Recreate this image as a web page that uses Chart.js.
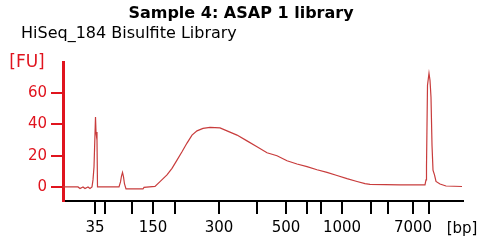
<!DOCTYPE html>
<html>
<head>
<meta charset="utf-8">
<script src="https://cdn.jsdelivr.net/npm/chart.js@4/dist/chart.umd.min.js"></script>
<style>
html,body{margin:0;padding:0;background:#fff;}
#c{display:block;}
</style>
</head>
<body>
<canvas id="c" width="480" height="244"></canvas>
<script>
// Electropherogram: migration time (s) and fluorescence (FU)
const traceTime = [40.0,43.0,43.4,44.0,44.4,45.0,45.4,45.8,46.0,46.2,46.5,46.6,46.8,46.9,
  51.2,51.5,51.7,51.9,52.1,52.3,52.6,56.0,56.2,58.4,
  59.4,60.8,61.8,62.8,63.8,64.8,65.8,66.8,68.0,69.4,71.4,72.8,74.8,76.8,78.8,80.8,82.8,84.8,86.8,88.8,90.8,92.8,94.8,96.8,98.8,100.4,101.4,
  107.4,112.4,112.6,112.7,112.9,113.2,113.4,113.6,113.8,114.0,114.3,114.6,115.4,116.6,119.8];
const traceFU = [0,0,-1.0,0,-1.0,0,-1.0,0,4.5,12.8,44.7,35.1,30.0,0,
  0,3.2,7.0,9.3,6.4,1.9,-1.3,-1.3,-0.3,0.4,
  3.4,7.7,11.9,17.2,22.5,28.1,33.2,35.9,37.5,38.1,37.8,35.9,33.2,29.5,25.7,21.9,20.0,16.8,14.7,13.0,11.0,9.3,7.3,5.3,3.5,2.1,1.6,
  1.3,1.3,4.5,13.4,65.1,72.8,68.3,57.4,26.8,10.8,7.7,3.5,1.9,0.6,0.3];
// Ladder: sizes (bp) and their migration times (s)
const ladderBp   = [35,50,100,150,200,300,400,500,600,700,1000,2000,3000,7000,10380];
const ladderTime = [46.4,48.4,53.8,58.0,62.4,71.2,78.8,84.6,88.8,91.6,95.8,101.6,105.0,110.0,113.2];
const labeledBp  = [35,150,300,500,1000,7000];
const yTicks = [0,20,40,60];

const titleText = 'Sample 4: ASAP 1 library';
const subtitleText = 'HiSeq_184 Bisulfite Library';
const yUnit = '[FU]';
const xUnit = '[bp]';

const RED = '#e0141e';
const TRACE = '#c83c3c';
Chart.defaults.font.family = 'DejaVu Sans';

const textPlugin = {
  id: 'texts',
  afterDraw(chart) {
    const ctx = chart.ctx;
    ctx.save();
    ctx.textBaseline = 'middle';
    ctx.fillStyle = '#000';
    ctx.font = 'bold 16px "DejaVu Sans"';
    ctx.textAlign = 'center';
    ctx.fillText(titleText, 241, 14);
    ctx.font = '16px "DejaVu Sans"';
    ctx.textAlign = 'left';
    ctx.fillText(subtitleText, 21, 34);
    ctx.fillStyle = RED;
    ctx.font = '17px "DejaVu Sans"';
    ctx.textAlign = 'center';
    ctx.fillText(yUnit, 27, 63);
    ctx.fillStyle = '#000';
    ctx.font = '15px "DejaVu Sans"';
    ctx.fillText(xUnit, 462, 229);
    ctx.restore();
  }
};

new Chart(document.getElementById('c'), {
  type: 'line',
  data: {
    datasets: [{
      data: traceTime.map((t, i) => ({x: t, y: traceFU[i]})),
      borderColor: TRACE,
      borderWidth: 1.2,
      pointRadius: 0,
      tension: 0,
      fill: false
    }]
  },
  options: {
    responsive: false,
    animation: false,
    devicePixelRatio: 1,
    layout: {padding: {top: 62, left: 0, right: 17, bottom: 0}},
    plugins: {legend: {display: false}, title: {display: false}, tooltip: {enabled: false}},
    scales: {
      x: {
        type: 'linear',
        min: 40, max: 120,
        afterBuildTicks: s => { s.ticks = ladderTime.map(v => ({value: v})); },
        afterFit: s => { s.height = 43; },
        ticks: {
          autoSkip: false, maxRotation: 0, minRotation: 0, padding: 5,
          color: '#000', font: {size: 15},
          callback: (v, i) => labeledBp.includes(ladderBp[i]) ? String(ladderBp[i]) : ''
        },
        grid: {drawOnChartArea: false, color: '#000', lineWidth: 2, tickLength: 13},
        border: {color: '#000', width: 2}
      },
      y: {
        min: -9, max: 80,
        afterBuildTicks: s => { s.ticks = yTicks.map(v => ({value: v})); },
        afterFit: s => { s.width = 63; },
        ticks: {padding: 4, color: RED, font: {size: 15}},
        grid: {drawOnChartArea: false, color: RED, lineWidth: 2, tickLength: 12},
        border: {color: RED, width: 3}
      }
    }
  },
  plugins: [textPlugin]
});
</script>
</body>
</html>
